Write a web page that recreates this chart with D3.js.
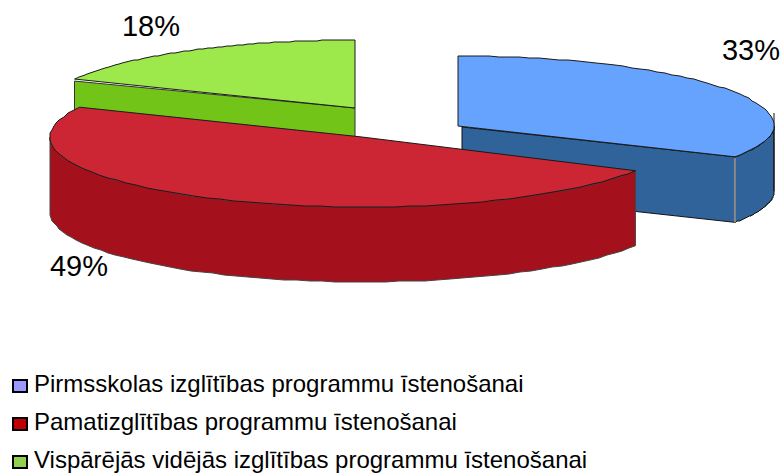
<!DOCTYPE html>
<html><head><meta charset="utf-8">
<script src="https://cdn.jsdelivr.net/npm/d3@7/dist/d3.min.js"></script>
<style>html,body{margin:0;padding:0;background:#fff}svg{display:block}text{font-family:"Liberation Sans",Arial,sans-serif;fill:#000}</style>
</head><body><svg id="c" width="782" height="474"></svg>
<script>
const categories = ["Pirmsskolas izglītības programmu īstenošanai","Pamatizglītības programmu īstenošanai","Vispārējās vidējās izglītības programmu īstenošanai"];
const values = [33, 49, 18];
const valueLabels = ["33%", "49%", "18%"];
const topColors = ["#66A3FF", "#CC2533", "#9DE84B"];
const sideColors = ["#2F6399", "#A4111C", "#72C418"];
const wallStrokes = ["#111", "#444", "#333"];
const legendColors = ["#9999FF", "#C00000", "#92D050"];
const geometry = [
  {cx:458, cy:126, rx:316, ry:70, ryFront:64, depth:65.5, lx:751, ly:60},
  {cx:362, cy:137, rx:312, ry:70, ryFront:70, depth:75, lx:79,  ly:276},
  {cx:355, cy:108, rx:310, ry:68, ryFront:68, depth:72, lx:151, ly:36}
];
const svg = d3.select("#c");
const arcs = d3.pie().sort(null).value(d=>d)(values);
const line = d3.line();
const toPt = (g,a,dy=0)=>{
  const c = Math.cos(a);
  return [g.cx+g.rx*Math.sin(a), g.cy-(c<0?g.ryFront:g.ry)*c+dy];
};
const sample = (g,a0,a1,dy=0,n=64)=>d3.range(0,n+1).map(i=>{
  const p = toPt(g,a0+(a1-a0)*i/n,dy);
  return (i===0||i===n) ? p : [Math.round(p[0]),Math.round(p[1])];
});

function drawSlice(i){
  const g = geometry[i], a = arcs[i], s = a.startAngle, e = a.endAngle;
  const layer = svg.append("g");
  const cutA = i===0 ? e : s;
  if(i!==1){
    const rim = toPt(g,cutA);
    const start = i===0 ? [g.cx+4,g.cy+1] : [g.cx,g.cy];
    const startRim = i===2 ? [rim[0],rim[1]+2] : rim;
    layer.append("path")
      .attr("d", line([start,startRim,[rim[0],rim[1]+g.depth],[start[0],start[1]+g.depth]])+"Z")
      .attr("fill",sideColors[i]).attr("stroke",wallStrokes[i]).attr("stroke-width",1);
  }
  const w0 = Math.max(s,Math.PI/2), w1 = Math.min(e,3*Math.PI/2);
  if(w1>w0){
    const upper = sample(g,w0,w1), lower = sample(g,w1,w0,g.depth);
    layer.append("path").attr("d",line(upper.concat(lower))+"Z")
      .attr("fill",sideColors[i]).attr("stroke",wallStrokes[i]).attr("stroke-width",1);
  }
  if(i===0){
    // wall edge rising slightly past the rim at the far right
    const tip = toPt(g,Math.PI/2);
    layer.append("path").attr("d",line([[tip[0],tip[1]-13],[tip[0],tip[1]+g.depth]]))
      .attr("stroke","#111").attr("stroke-width",1).attr("fill","none");
  }
  const topPts = [[g.cx,g.cy]].concat(sample(g,s,e));
  layer.append("path").attr("d",line(topPts)+"Z")
    .attr("fill",topColors[i]).attr("stroke","#1a1a1a").attr("stroke-width",1).attr("stroke-linejoin","round");
}
[0,2,1].forEach(drawSlice);
{
  const g = geometry[0], rim = toPt(g,arcs[0].endAngle);
  svg.insert("path","g:last-of-type").attr("d",line([[rim[0],rim[1]+1],[rim[0],rim[1]+g.depth]]))
    .attr("stroke","#8a8a8a").attr("stroke-width",2).attr("fill","none");
}
svg.selectAll("text.v").data(valueLabels).join("text").attr("class","v")
  .attr("x",(d,i)=>geometry[i].lx).attr("y",(d,i)=>geometry[i].ly)
  .attr("text-anchor","middle").attr("font-size",29).text(d=>d);
const legendY = d3.scalePoint().domain(categories).range([392,468]);
const leg = svg.selectAll("g.l").data(categories).join("g").attr("class","l");
leg.append("rect").attr("x",13).attr("y",d=>legendY(d)-12).attr("width",14).attr("height",12)
  .attr("fill",(d,i)=>legendColors[i]).attr("stroke","#000").attr("stroke-width",2);
leg.append("text").attr("x",34).attr("y",d=>legendY(d)).attr("font-size",24).text(d=>d);
</script></body></html>
